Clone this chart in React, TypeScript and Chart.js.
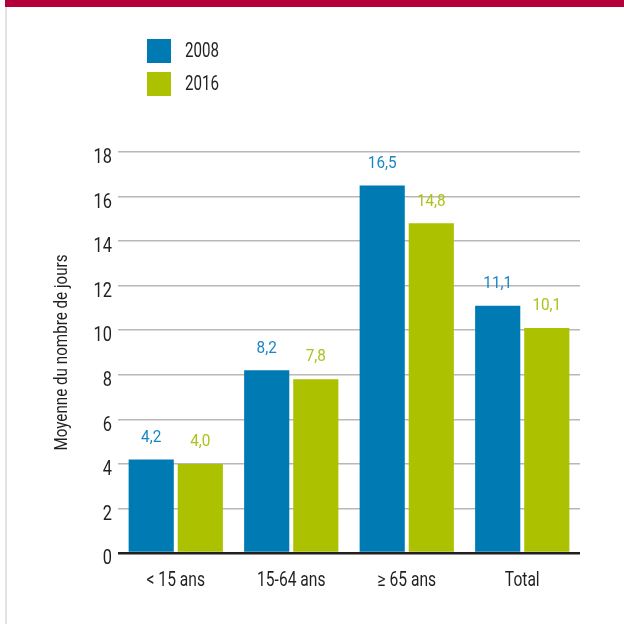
import React, { useEffect, useRef } from "react";
import { Chart, registerables } from "chart.js";

Chart.register(...registerables);

const categories = ["< 15 ans", "15-64 ans", "\u2265 65 ans", "Total"];
const series2008 = [4.2, 8.2, 16.5, 11.1];
const series2016 = [4.0, 7.8, 14.8, 10.1];
const seriesLabels = ["2008", "2016"];
const yTicks = [0, 2, 4, 6, 8, 10, 12, 14, 16, 18];
const yTitle = "Moyenne du nombre de jours";

const BLUE = "#007ab3";
const GREEN = "#acc100";
const BLUE_LABEL = "#1b86c2";
const GREEN_LABEL = "#adc21a";
const TEXT = "#231f20";
const FONT = "Roboto, 'Open Sans', sans-serif";

function drawText(ctx: CanvasRenderingContext2D, text: string, x: number, y: number, align: CanvasTextAlign, sx: number) {
  ctx.save();
  ctx.translate(x, y);
  ctx.scale(sx, 1);
  ctx.textAlign = align;
  ctx.textBaseline = "middle";
  ctx.fillText(text, 0, 0);
  ctx.restore();
}

const textPlugin = {
  id: "textPlugin",
  afterDraw(chart: any) {
    const { ctx, scales, chartArea } = chart;
    const xs = scales.x;
    const ys = scales.y;
    ctx.save();
    // y ticks
    ctx.fillStyle = TEXT;
    ctx.font = `21px ${FONT}`;
    yTicks.forEach((v) => {
      drawText(ctx, String(v), 112, ys.getPixelForValue(v) + 6, "right", 0.78);
    });
    // x labels
    ctx.font = `20px ${FONT}`;
    categories.forEach((c, i) => {
      drawText(ctx, c, xs.getPixelForValue(i), chartArea.bottom + 28, "center", 0.78);
    });
    // y title
    ctx.font = `19px ${FONT}`;
    ctx.save();
    ctx.translate(62, (chartArea.top + chartArea.bottom) / 2);
    ctx.rotate(-Math.PI / 2);
    drawText(ctx, yTitle, 0, 0, "center", 0.8);
    ctx.restore();
    // value labels
    ctx.font = `17px ${FONT}`;
    chart.data.datasets.forEach((ds: any, i: number) => {
      const meta = chart.getDatasetMeta(i);
      ctx.fillStyle = i === 0 ? BLUE_LABEL : GREEN_LABEL;
      meta.data.forEach((bar: any, j: number) => {
        const v = ds.data[j] as number;
        drawText(ctx, v.toFixed(1).replace(".", ","), bar.x, bar.y - 22, "center", 0.9);
      });
    });
    // legend
    chart.data.datasets.forEach((ds: any, i: number) => {
      const top = 39 + i * 33;
      ctx.fillStyle = ds.backgroundColor;
      ctx.fillRect(147, top, 24, 24);
      ctx.fillStyle = TEXT;
      ctx.font = `21px ${FONT}`;
      drawText(ctx, ds.label, 185, top + 13, "left", 0.72);
    });
    ctx.restore();
  },
};

export default function App() {
  const ref = useRef<HTMLCanvasElement | null>(null);
  useEffect(() => {
    if (!ref.current) return;
    const chart = new Chart(ref.current, {
      type: "bar",
      data: {
        labels: categories,
        datasets: [
          { label: seriesLabels[0], data: series2008, backgroundColor: BLUE },
          { label: seriesLabels[1], data: series2016, backgroundColor: GREEN },
        ],
      },
      plugins: [textPlugin],
      options: {
        animation: false,
        responsive: false,
        maintainAspectRatio: false,
        layout: { padding: { top: 152, right: 44, left: 0, bottom: 0 } },
        datasets: { bar: { categoryPercentage: 0.85, barPercentage: 0.92 } },
        plugins: { legend: { display: false }, tooltip: { enabled: false } },
        scales: {
          x: {
            grid: { display: false, drawTicks: false },
            border: { display: false },
            ticks: { display: false },
            afterFit(scale: any) { scale.height = 71; },
          },
          y: {
            min: 0,
            max: 18,
            afterBuildTicks(scale: any) { scale.ticks = yTicks.map((v) => ({ value: v })); },
            afterFit(scale: any) { scale.width = 118; },
            grid: {
              drawTicks: false,
              color: (c: any) => (c.tick && c.tick.value === 0 ? TEXT : "#b8b8b8"),
              lineWidth: (c: any) => (c.tick && c.tick.value === 0 ? 2.5 : 1.5),
            },
            border: { display: false },
            ticks: { display: false },
          },
        },
      },
    } as any);
    return () => chart.destroy();
  }, []);

  return (
    <div style={{ position: "fixed", left: 0, top: 0, width: 624, height: 624, background: "#fff", overflow: "hidden" }}>
      <div style={{ position: "absolute", left: 5, top: 0, width: 619, height: 7, background: "#b3003a" }} />
      <div style={{ position: "absolute", left: 5, top: 7, width: 2, height: 617, background: "#e2e2e2" }} />
      <canvas ref={ref} width={624} height={624} style={{ position: "absolute", left: 0, top: 0 }} />
    </div>
  );
}
